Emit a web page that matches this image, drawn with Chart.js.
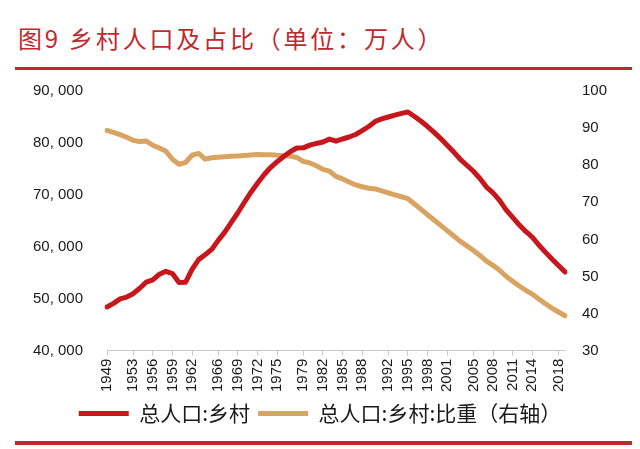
<!DOCTYPE html>
<html>
<head>
<meta charset="utf-8">
<script src="https://cdn.jsdelivr.net/npm/chart.js@4.4.0/dist/chart.umd.min.js"></script>
<style>
html, body { margin: 0; padding: 0; background: #fff; }
#wrap { position: relative; width: 640px; height: 449px; overflow: hidden; }
#title { position: absolute; left: 18px; top: 22px; font-family: "Noto Sans CJK SC"; font-size: 24px; line-height: 32px; color: #c0282d; letter-spacing: 2.8px; white-space: pre; }
.rule { position: absolute; left: 15px; width: 617px; background: #c0282d; }
#chart { position: absolute; left: 0; top: 0; }
</style>
</head>
<body>
<div id="wrap">
	<div id="title">图9 乡村人口及占比（单位：万人）</div>
	<div class="rule" style="top:67px;height:3px"></div>
	<div class="rule" style="top:441px;height:4px"></div>
	<canvas id="chart" width="640" height="449"></canvas>
</div>
<script>
var years = ['1949','1950','1951','1952','1953','1954','1955','1956','1957','1958',
	'1959','1960','1961','1962','1963','1964','1965','1966','1967','1968',
	'1969','1970','1971','1972','1973','1974','1975','1976','1977','1978',
	'1979','1980','1981','1982','1983','1984','1985','1986','1987','1988',
	'1989','1990','1991','1992','1993','1994','1995','1996','1997','1998',
	'1999','2000','2001','2002','2003','2004','2005','2006','2007','2008',
	'2009','2010','2011','2012','2013','2014','2015','2016','2017','2018','2019'];

var tickYears = ['1949','1953','1956','1959','1962','1966','1969','1972','1975','1979','1982',
	'1985','1988','1992','1995','1998','2001','2005','2008','2011','2014','2018'];

// 总人口:乡村 (万人)
var ruralPop = [48402, 49106, 49973, 50319, 50970, 52017, 53180, 53643, 54704, 55273,
	54836, 53134, 53152, 55636, 57526, 58467, 59493, 61229, 62820, 64696,
	66554, 68568, 70518, 72242, 73866, 75264, 76390, 77376, 78305, 79014,
	79047, 79565, 79901, 80174, 80734, 80340, 80757, 81141, 81626, 82365,
	83164, 84138, 84620, 84996, 85344, 85681, 85947, 85085, 84177, 83153,
	82038, 80837, 79563, 78241, 76851, 75705, 74544, 73160, 71496, 70399,
	68938, 67113, 65656, 64222, 62961, 61866, 60346, 58973, 57661, 56401, 55162];

// 总人口:乡村:比重 (%)
var ruralShare = [89.36, 88.82, 88.22, 87.54, 86.69, 86.37, 86.52, 85.38, 84.61, 83.75,
	81.59, 80.25, 80.71, 82.67, 83.16, 81.63, 82.02, 82.14, 82.26, 82.38,
	82.50, 82.62, 82.74, 82.87, 82.80, 82.84, 82.66, 82.56, 82.45, 82.08,
	81.04, 80.61, 79.84, 78.87, 78.38, 76.99, 76.29, 75.48, 74.68, 74.19,
	73.79, 73.59, 73.06, 72.54, 72.01, 71.49, 70.96, 69.52, 68.09, 66.65,
	65.22, 63.78, 62.34, 60.91, 59.47, 58.24, 57.01, 55.66, 54.11, 53.01,
	51.66, 50.05, 48.73, 47.43, 46.27, 45.23, 43.90, 42.65, 41.48, 40.42, 39.40];

var RED = '#c8161d';
var TAN = '#d9a462';
var AXIS = '#c8c8c8';
var TEXT = '#1a1a1a';

function fmtThousands(v) {
	return Number(v).toLocaleString('en-US').replace(/,/g, ', ');
}

var chart = new Chart(document.getElementById('chart'), {
	type: 'line',
	data: {
		labels: years,
		datasets: [{
			label: '总人口:乡村',
			data: ruralPop,
			yAxisID: 'y',
			borderColor: RED,
			backgroundColor: RED,
			borderWidth: 5,
			pointRadius: 0,
			tension: 0,
			borderCapStyle: 'round',
			borderJoinStyle: 'round'
		}, {
			label: '总人口:乡村:比重（右轴）',
			data: ruralShare,
			yAxisID: 'y1',
			borderColor: TAN,
			backgroundColor: TAN,
			borderWidth: 5,
			pointRadius: 0,
			tension: 0,
			borderCapStyle: 'round',
			borderJoinStyle: 'round'
		}]
	},
	options: {
		responsive: false,
		animation: false,
		layout: {
			padding: { top: 91, bottom: 15, left: 0, right: 0 }
		},
		plugins: {
			legend: {
				position: 'bottom',
				labels: {
					usePointStyle: true,
					pointStyle: 'line',
					pointStyleWidth: 50,
					boxHeight: 6,
					padding: 8,
					color: TEXT,
					font: { family: 'Noto Sans CJK SC', size: 21 }
				}
			},
			tooltip: { enabled: false }
		},
		scales: {
			x: {
				grid: { drawOnChartArea: false, tickLength: 5, color: AXIS },
				border: { color: AXIS },
				afterBuildTicks: function (scale) {
					scale.ticks = scale.ticks.filter(function (t) {
						return tickYears.indexOf(years[t.value]) >= 0;
					});
				},
				ticks: {
					autoSkip: false,
					maxRotation: 90,
					minRotation: 90,
					padding: 3,
					color: TEXT,
					font: { family: 'Liberation Sans', size: 15 }
				}
			},
			y: {
				position: 'left',
				min: 40000,
				max: 90000,
				grid: { display: false, drawTicks: false },
				border: { display: false },
				afterFit: function (scale) { scale.width = 107; },
				ticks: {
					stepSize: 10000,
					padding: 24,
					color: TEXT,
					font: { family: 'Liberation Sans', size: 15 },
					callback: function (v) { return fmtThousands(v); }
				}
			},
			y1: {
				position: 'right',
				min: 30,
				max: 100,
				grid: { display: false, drawTicks: false },
				border: { display: false },
				afterFit: function (scale) { scale.width = 75; },
				ticks: {
					stepSize: 10,
					padding: 17,
					color: TEXT,
					font: { family: 'Liberation Sans', size: 15 }
				}
			}
		}
	}
});
</script>
</body>
</html>
